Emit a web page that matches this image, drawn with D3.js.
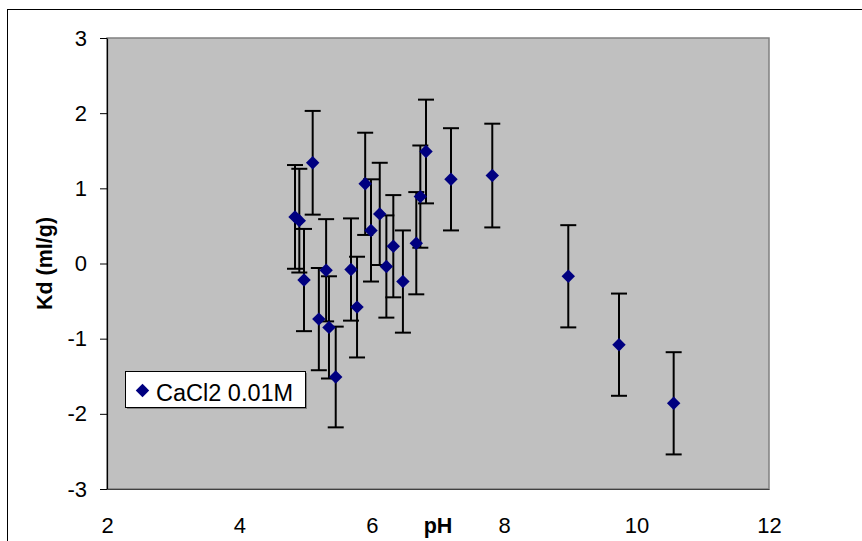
<!DOCTYPE html>
<html lang="en">
<head>
<meta charset="UTF-8">
<title>Kd vs pH</title>
<script src="https://d3js.org/d3.v7.min.js"></script>
<style>
    body { margin: 0; background: #ffffff; }
    svg { display: block; }
    .tick-label { font-family: Arial, "Liberation Sans", sans-serif; font-size: 22px; fill: #000; }
    .axis-title { font-family: Arial, "Liberation Sans", sans-serif; font-size: 21.5px; font-weight: bold; fill: #000; }
    .legend-label { font-family: Arial, "Liberation Sans", sans-serif; font-size: 23.5px; fill: #000; }
</style>
</head>
<body>
<svg width="862" height="541"></svg>
<script>
// Datos
const seriesName = "CaCl2 0.01M";
const pH = [4.84, 4.905, 4.976, 5.107, 5.20, 5.31, 5.353, 5.455, 5.686, 5.777, 5.90, 5.988,
            6.12, 6.22, 6.325, 6.47, 6.672, 6.733, 6.819, 7.196, 7.82, 8.968, 9.734, 10.56];
const kd = [0.62, 0.57, -0.22, 1.34, -0.74, -0.09, -0.85, -1.51, -0.08, -0.58, 1.06, 0.44,
            0.66, -0.04, 0.23, -0.24, 0.27, 0.89, 1.49, 1.12, 1.17, -0.17, -1.08, -1.86];
const err = [0.69, 0.69, 0.68, 0.69, 0.68, 0.68, 0.68, 0.67, 0.68, 0.67, 0.68, 0.68,
             0.68, 0.68, 0.68, 0.68, 0.68, 0.68, 0.69, 0.68, 0.69, 0.68, 0.68, 0.68];
const xTicks = [2, 4, 6, 8, 10, 12];
const yTicks = [-3, -2, -1, 0, 1, 2, 3];

const data = pH.map((d, i) => ({ x: d, y: kd[i], e: err[i] }));

const svg = d3.select("svg");
const plot = { left: 107, right: 769, top: 38, bottom: 489 };

const x = d3.scaleLinear().domain([2, 12]).range([plot.left, plot.right]);
const y = d3.scaleLinear().domain([-3, 3]).range([plot.bottom, plot.top]);

// marco exterior
svg.append("rect")
    .attr("x", 7.5).attr("y", 9.5)
    .attr("width", 880).attr("height", 560)
    .attr("fill", "#fff").attr("stroke", "#000");

// area de trazado
svg.append("rect")
    .attr("x", plot.left).attr("y", plot.top)
    .attr("width", plot.right - plot.left).attr("height", plot.bottom - plot.top)
    .attr("fill", "#c0c0c0").attr("stroke", "#808080").attr("stroke-width", 1.5);

// eje y
const yAxis = svg.append("g").attr("transform", `translate(${plot.left},0)`)
    .call(d3.axisLeft(y).tickValues(yTicks).tickSize(7).tickSizeOuter(0).tickFormat(d3.format("d")));
yAxis.select(".domain").attr("stroke", "#000").attr("stroke-width", 1.2);
yAxis.selectAll(".tick line").attr("stroke", "#000");
yAxis.selectAll(".tick text").attr("class", "tick-label").attr("x", -20)
    .text(d => d < 0 ? "-" + Math.abs(d) : d);

// eje x
const xAxis = svg.append("g").attr("transform", `translate(0,${plot.bottom})`)
    .call(d3.axisBottom(x).tickValues(xTicks).tickSize(0).tickSizeOuter(0));
xAxis.select(".domain").attr("stroke", "#404040").attr("stroke-width", 1.2);
xAxis.selectAll(".tick text").attr("class", "tick-label").attr("y", 44).attr("dy", 0);

svg.append("text").attr("class", "axis-title")
    .attr("x", 438).attr("y", 533).attr("text-anchor", "middle").text("pH");

svg.append("text").attr("class", "axis-title")
    .attr("transform", `translate(52,${(plot.top + plot.bottom) / 2}) rotate(-90)`)
    .attr("text-anchor", "middle").text("Kd (ml/g)");

// barras de error
const bars = svg.append("g").attr("stroke", "#000").attr("stroke-width", 2);
const cap = 8;
data.forEach(d => {
    const cx = x(d.x), top = y(d.y + d.e), bot = y(d.y - d.e);
    bars.append("line").attr("x1", cx).attr("x2", cx).attr("y1", top).attr("y2", bot);
    bars.append("line").attr("x1", cx - cap).attr("x2", cx + cap).attr("y1", top).attr("y2", top);
    bars.append("line").attr("x1", cx - cap).attr("x2", cx + cap).attr("y1", bot).attr("y2", bot);
});

// puntos
const diamond = d3.symbol().type(d3.symbolDiamond2).size(115);
svg.append("g").selectAll("path")
    .data(data).enter().append("path")
    .attr("d", diamond)
    .attr("transform", d => `translate(${x(d.x)},${y(d.y)})`)
    .attr("fill", "#000080");

// leyenda
const legend = svg.append("g").attr("transform", "translate(125,371)");
legend.append("rect").attr("x", 2).attr("y", 2).attr("width", 180).attr("height", 36).attr("fill", "#808080");
legend.append("rect").attr("x", 0.5).attr("y", 0.5).attr("width", 180).attr("height", 36)
    .attr("fill", "#fff").attr("stroke", "#000");
legend.append("path").attr("d", diamond).attr("transform", "translate(17.5,19.5)").attr("fill", "#000080");
legend.append("text").attr("class", "legend-label").attr("x", 31).attr("y", 29.5).text(seriesName);
</script>
</body>
</html>
